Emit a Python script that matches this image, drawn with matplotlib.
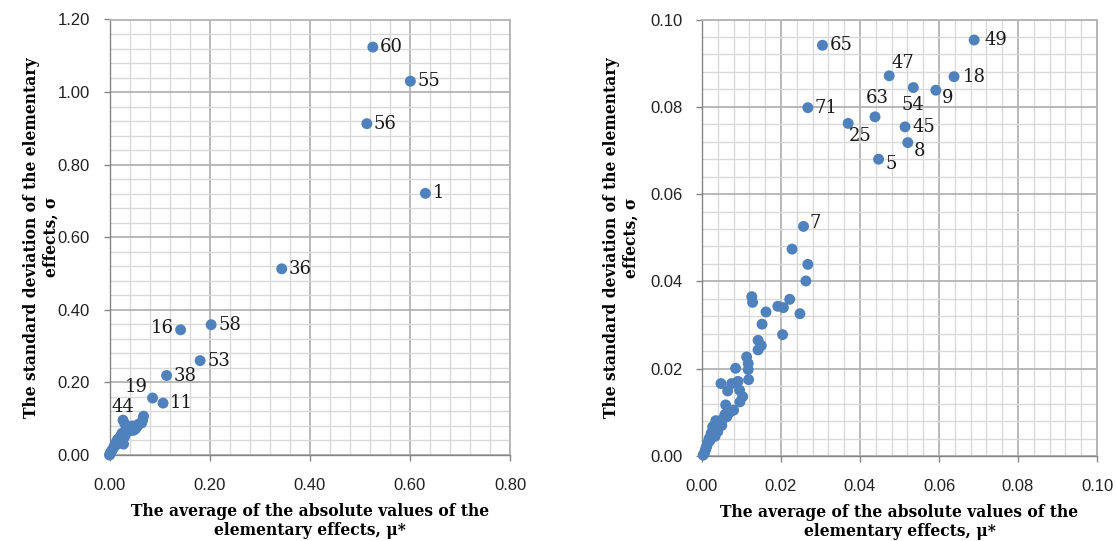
import matplotlib
matplotlib.use("Agg")
import matplotlib.pyplot as plt
from matplotlib.ticker import MultipleLocator, FormatStrFormatter

# ---------------- data: left panel ----------------
left_labels = ["60", "55", "56", "1", "36", "58", "16", "53", "38", "19", "11", "44"]
left_lab_x = [0.526, 0.601, 0.514, 0.631, 0.344, 0.203, 0.142, 0.181, 0.114, 0.086, 0.107, 0.027]
left_lab_y = [1.124, 1.030, 0.913, 0.721, 0.513, 0.359, 0.345, 0.260, 0.219, 0.157, 0.143, 0.096]

left_x = [0.031, 0.040, 0.046, 0.052, 0.058, 0.066, 0.068, 0.064, 0.048, 0.035,
          0.025, 0.022, 0.018, 0.015, 0.012, 0.010, 0.008, 0.005, 0.003, 0.002,
          0.001, 0.000, 0.020, 0.025, 0.028, 0.055, 0.043, 0.038, 0.030, 0.016]
left_y = [0.085, 0.075, 0.080, 0.072, 0.085, 0.095, 0.107, 0.088, 0.068, 0.072,
          0.060, 0.052, 0.045, 0.040, 0.032, 0.025, 0.020, 0.013, 0.008, 0.005,
          0.002, 0.000, 0.035, 0.040, 0.030, 0.078, 0.070, 0.065, 0.050, 0.030]

# ---------------- data: right panel ----------------
right_labels = ["65", "49", "47", "18", "54", "9", "71", "63", "25", "45", "8", "5", "7"]
right_lab_x = [0.0305, 0.0689, 0.0474, 0.0638, 0.0535, 0.0592, 0.0268, 0.0438,
               0.0370, 0.0514, 0.0521, 0.0447, 0.0257]
right_lab_y = [0.0941, 0.0953, 0.0871, 0.0869, 0.0844, 0.0838, 0.0798, 0.0777,
               0.0762, 0.0754, 0.0718, 0.0680, 0.0526]

right_x = [0.0228, 0.0268, 0.0263, 0.0126, 0.0128, 0.0192, 0.0206, 0.0222, 0.0162, 0.0248,
           0.0152, 0.0204, 0.0142, 0.0150, 0.0142, 0.0113, 0.0117, 0.0117, 0.0085, 0.0048,
           0.0075, 0.0091, 0.0118, 0.0065, 0.0095, 0.0103, 0.0096, 0.0060, 0.0063, 0.0052,
           0.0035, 0.0040, 0.0027, 0.0023, 0.0018, 0.0014, 0.0010, 0.0006, 0.0003, 0.0008,
           0.0012, 0.0020, 0.0030, 0.0045, 0.0058, 0.0070, 0.0080, 0.0050, 0.0033]
right_y = [0.0474, 0.0439, 0.0401, 0.0365, 0.0352, 0.0343, 0.0340, 0.0359, 0.0330, 0.0326,
           0.0302, 0.0278, 0.0265, 0.0253, 0.0243, 0.0227, 0.0212, 0.0198, 0.0201, 0.0166,
           0.0166, 0.0171, 0.0175, 0.0149, 0.0151, 0.0136, 0.0124, 0.0117, 0.0090, 0.0084,
           0.0081, 0.0056, 0.0067, 0.0052, 0.0040, 0.0029, 0.0018, 0.0006, 0.0002, 0.0012,
           0.0022, 0.0035, 0.0060, 0.0075, 0.0095, 0.0100, 0.0105, 0.0070, 0.0045]

x_title = "The average of the absolute values of the\nelementary effects, \u03bc*"
y_title = "The standard deviation of the elementary\neffects, \u03c3"

# label offsets in pixels (dx, dy, ha, va) - layout only
left_offsets = {
    "16": (-18, 2, "center", "center"),
    "19": (-16, 11, "center", "center"),
    "44": (0, 13, "center", "center"),
}
right_offsets = {
    "49": (10, 0, "left", "center"),
    "47": (14, 13, "center", "center"),
    "18": (9, 0, "left", "center"),
    "54": (0, -17, "center", "center"),
    "9": (12, -8, "center", "center"),
    "63": (2, 19, "center", "center"),
    "25": (12, -13, "center", "center"),
    "8": (12, -8, "center", "center"),
    "5": (13, -5, "center", "center"),
    "7": (12, 3, "center", "center"),
}

BLUE = "#4f81bd"
TICK_FONT = "Liberation Sans"
SERIF = "DejaVu Serif"

fig = plt.figure(figsize=(11.16, 5.41), dpi=100)
W, H = 1116, 541
ax1 = fig.add_axes([109.5 / W, (541 - 455) / H, (510 - 109.5) / W, (455 - 19.5) / H])
ax2 = fig.add_axes([702 / W, (541 - 456) / H, (1097 - 702) / W, (456 - 19.5) / H])


def style_axes(ax, xmax, ymax, major, fmt, ylab_x):
    ax.set_xlim(0, xmax)
    ax.set_ylim(0, ymax)
    ax.xaxis.set_major_locator(MultipleLocator(major[0]))
    ax.yaxis.set_major_locator(MultipleLocator(major[1]))
    ax.xaxis.set_minor_locator(MultipleLocator(major[0] / 5))
    ax.yaxis.set_minor_locator(MultipleLocator(major[1] / 5))
    ax.xaxis.set_major_formatter(FormatStrFormatter(fmt))
    ax.yaxis.set_major_formatter(FormatStrFormatter(fmt))
    ax.set_axisbelow(True)
    ax.grid(True, which="major", color="#b3b3b3", lw=1.3)
    ax.grid(True, which="minor", color="#d9d9d9", lw=1.0)
    for s in ["top", "right"]:
        ax.spines[s].set_color("#b3b3b3")
        ax.spines[s].set_linewidth(1.3)
    for s in ["left", "bottom"]:
        ax.spines[s].set_color("#868686")
        ax.spines[s].set_linewidth(1.0)
    ax.tick_params(which="major", length=4.5, width=1.0, color="#868686",
                   labelsize=12, labelcolor="#222222")
    ax.tick_params(axis="x", which="major", pad=12)
    ax.tick_params(axis="y", which="major", pad=9.5)
    ax.tick_params(which="minor", length=0)
    for t in ax.get_xticklabels() + ax.get_yticklabels():
        t.set_fontfamily(TICK_FONT)
    ax.set_xlabel(x_title, fontsize=11.2, fontweight="bold", family=SERIF,
                  labelpad=7, linespacing=1.2)
    ax.set_ylabel(y_title, fontsize=11.2, fontweight="bold", family=SERIF,
                  linespacing=1.2)
    ax.yaxis.set_label_coords(ylab_x, 0.5)


def draw(ax, xs, ys, lx, ly, labels, offsets):
    ax.scatter(list(xs) + list(lx), list(ys) + list(ly), s=62, color=BLUE,
               edgecolors="none", clip_on=False, zorder=3)
    for x, y, lab in zip(lx, ly, labels):
        dx, dy, ha, va = offsets.get(lab, (7, 0, "left", "center"))
        ax.annotate(lab, (x, y), xytext=(dx, dy), textcoords="offset pixels",
                    ha=ha, va=va, fontsize=13, family=SERIF, color="#1a1a1a",
                    zorder=4)


style_axes(ax1, 0.8, 1.2, (0.2, 0.2), "%.2f", -0.124)
style_axes(ax2, 0.1, 0.1, (0.02, 0.02), "%.2f", -0.157)
draw(ax1, left_x, left_y, left_lab_x, left_lab_y, left_labels, left_offsets)
draw(ax2, right_x, right_y, right_lab_x, right_lab_y, right_labels, right_offsets)

fig.savefig("out.png", dpi=100)
